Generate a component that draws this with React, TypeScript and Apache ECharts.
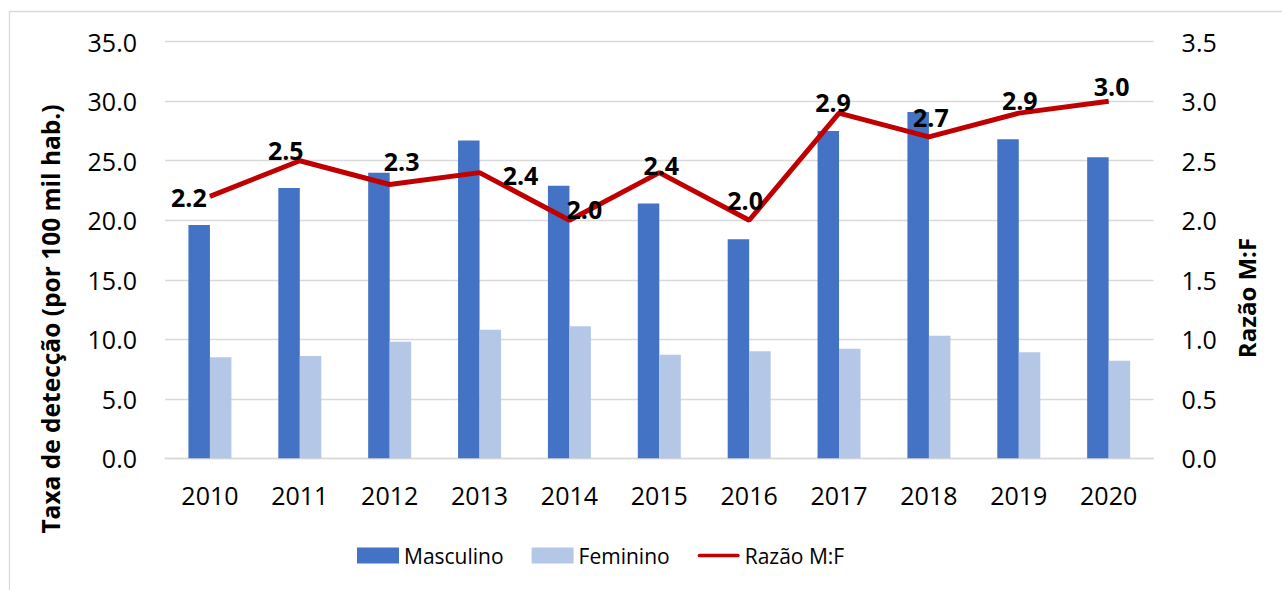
import React, { useEffect, useRef } from "react";
import * as echarts from "echarts";

const years = ["2010", "2011", "2012", "2013", "2014", "2015", "2016", "2017", "2018", "2019", "2020"];
const masculino = [19.6, 22.7, 24.0, 26.7, 22.9, 21.4, 18.4, 27.5, 29.1, 26.8, 25.3];
const feminino = [8.5, 8.6, 9.8, 10.8, 11.1, 8.7, 9.0, 9.2, 10.3, 8.9, 8.2];
const razao = [2.2, 2.5, 2.3, 2.4, 2.0, 2.4, 2.0, 2.9, 2.7, 2.9, 3.0];
const leftTicks = { min: 0, max: 35, interval: 5 };
const rightTicks = { min: 0, max: 3.5, interval: 0.5 };

// label offsets (style only) relative to each ratio point
const labelOffsets: [number, number][] = [
  [-21, 1], [-14, -11], [12, -24], [41, 2], [15, -11], [2, -8], [-4, -20], [-6, -11], [2, -20], [1, -13], [3, -15],
];

const FONT = "'Open Sans', sans-serif";

export default function App() {
  const ref = useRef<HTMLDivElement>(null);
  useEffect(() => {
    if (!ref.current) return;
    const chart = echarts.init(ref.current, null, { renderer: "svg" });
    chart.setOption({
      animation: false,
      backgroundColor: "#ffffff",
      textStyle: { fontFamily: FONT },
      grid: { left: 165, right: 128.4, top: 41.7, bottom: 131.7, containLabel: false },
      legend: {
        left: 352,
        top: 540,
        itemWidth: 42,
        itemHeight: 16,
        itemGap: 28,
        textStyle: { fontSize: 21, color: "#000", fontFamily: FONT },
        data: [
          { name: "Masculino", icon: "rect" },
          { name: "Feminino", icon: "rect" },
          { name: "Razão M:F", icon: "path://M2,0 L43,0 A2,2 0 0 1 43,4 L2,4 A2,2 0 0 1 2,0 Z" },
        ],
      },
      xAxis: {
        type: "category",
        data: years,
        axisLine: { show: true, lineStyle: { color: "#d9d9d9", width: 1.3 } },
        axisTick: { show: false },
        axisLabel: { fontSize: 25, color: "#000", margin: 24, fontFamily: FONT },
      },
      yAxis: [
        {
          type: "value",
          ...leftTicks,
          axisLine: { show: false },
          axisTick: { show: false },
          splitLine: { show: true, lineStyle: { color: "#d9d9d9", width: 1.3 } },
          axisLabel: { fontSize: 25, color: "#000", margin: 28, fontFamily: FONT, formatter: (v: number) => v.toFixed(1) },
        },
        {
          type: "value",
          ...rightTicks,
          axisLine: { show: false },
          axisTick: { show: false },
          splitLine: { show: false },
          axisLabel: { fontSize: 25, color: "#000", margin: 28, fontFamily: FONT, formatter: (v: number) => v.toFixed(1) },
        },
      ],
      series: [
        {
          name: "Masculino",
          type: "bar",
          data: masculino,
          barWidth: 21.5,
          barGap: "0%",
          itemStyle: { color: "#4472C4" },
        },
        {
          name: "Feminino",
          type: "bar",
          data: feminino,
          barWidth: 21.5,
          barGap: "0%",
          itemStyle: { color: "#B4C7E7" },
        },
        {
          name: "Razão M:F",
          type: "line",
          yAxisIndex: 1,
          z: 5,
          symbol: "circle",
          symbolSize: 1,
          showSymbol: true,
          itemStyle: { color: "#C00000" },
          lineStyle: { color: "#C00000", width: 5 },
          data: razao.map((v, i) => ({
            value: v,
            label: {
              show: true,
              position: "inside",
              offset: labelOffsets[i],
              formatter: (p: any) => Number(p.value).toFixed(1),
              fontSize: 25,
              fontWeight: "bold",
              color: "#000",
              fontFamily: FONT,
            },
          })),
        },
      ],
      graphic: [
        {
          type: "rect",
          shape: { x: 9.5, y: 11.5, width: 1400, height: 700 },
          style: { fill: "none", stroke: "#d9d9d9", lineWidth: 1.3 },
          silent: true,
        },
        {
          type: "text",
          x: 50,
          y: 319,
          rotation: Math.PI / 2,
          style: {
            text: "Taxa de detecção (por 100 mil hab.)",
            fontSize: 24.5,
            fontWeight: "bold",
            fontFamily: FONT,
            fill: "#000",
            align: "center",
            verticalAlign: "middle",
          },
        },
        {
          type: "text",
          x: 1246,
          y: 298,
          rotation: Math.PI / 2,
          style: {
            text: "Razão M:F",
            fontSize: 24,
            fontWeight: "bold",
            fontFamily: FONT,
            fill: "#000",
            align: "center",
            verticalAlign: "middle",
          },
        },
      ],
    });
    return () => chart.dispose();
  }, []);
  return (
    <div
      ref={ref}
      style={{ position: "absolute", left: 0, top: 0, width: 1282, height: 590 }}
    />
  );
}
